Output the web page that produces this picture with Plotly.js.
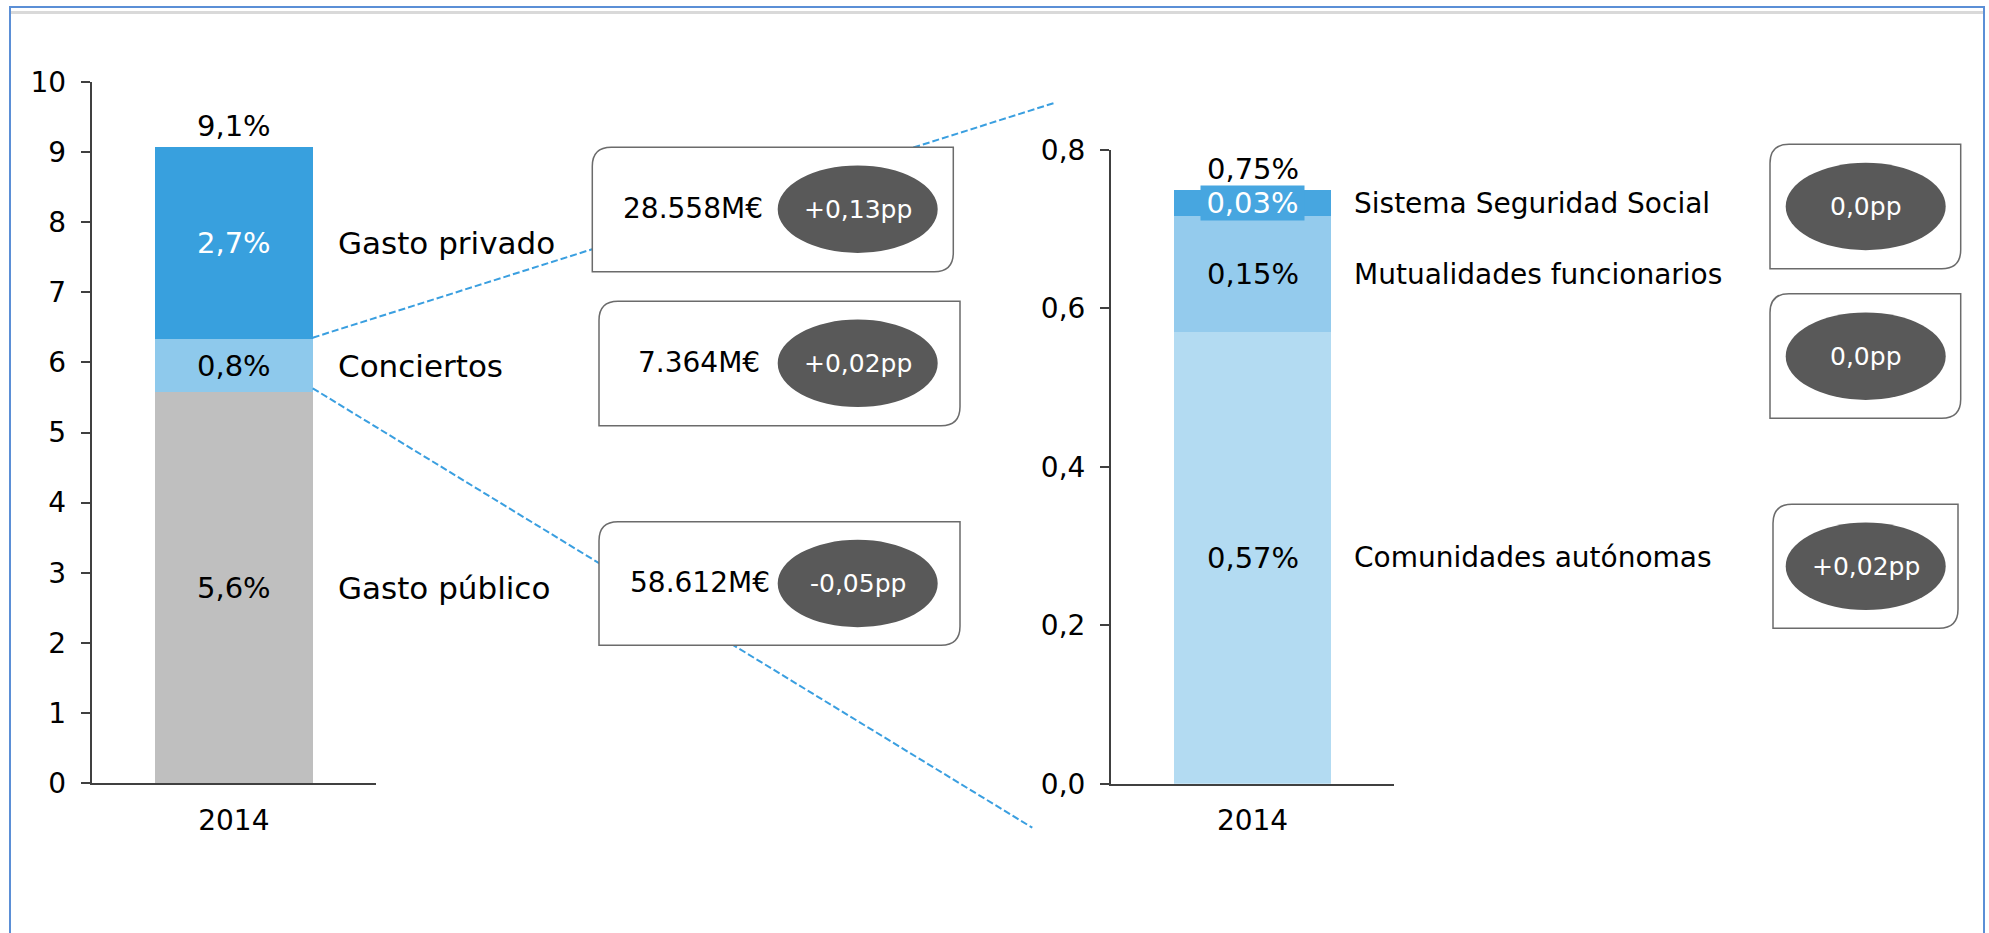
<!DOCTYPE html>
<html>
<head>
<meta charset="utf-8">
<script src="https://cdn.plot.ly/plotly-3.0.1.min.js"></script>
<style>
  html, body { margin: 0; padding: 0; background: #ffffff; }
  #chart { width: 1989px; height: 933px; }
</style>
</head>
<body>
<div id="chart"></div>
<script>
// ---------------- DATA ----------------
const categories = ['2014'];

const leftSeries = ['Gasto público', 'Conciertos', 'Gasto privado'];
const leftValues = [5.58, 0.75, 2.74];

const rightSeries = ['Comunidades autónomas', 'Mutualidades funcionarios', 'Sistema Seguridad Social'];
const rightValues = [0.57, 0.146, 0.033];

const leftTickVals = [0, 1, 2, 3, 4, 5, 6, 7, 8, 9, 10];
const leftTickText = ['0', '1', '2', '3', '4', '5', '6', '7', '8', '9', '10'];
const rightTickVals = [0, 0.2, 0.4, 0.6, 0.8];
const rightTickText = ['0,0', '0,2', '0,4', '0,6', '0,8'];

const leftAmounts = ['58.612M€', '7.364M€', '28.558M€'];
const leftChanges = ['-0,05pp', '+0,02pp', '+0,13pp'];
const rightChanges = ['+0,02pp', '0,0pp', '0,0pp'];

// ---------------- STYLE ----------------
const W = 1989, H = 933;
const FONT = 'DejaVu Sans, Verdana, sans-serif';
const leftColors = ['#bfbfbf', '#8ec9ec', '#38a0de'];
const leftTextColors = ['#000000', '#000000', '#ffffff'];
const rightColors = ['#b3dbf2', '#94cbed', '#47a6e0'];
const rightTextColors = ['#000000', '#000000', '#ffffff'];
const axisColor = '#404040';
const dashColor = '#3a9fe0';
const ellipseColor = '#595959';
const boxLine = '#6b6b6b';
const VALUE_SIZE = 29;

const px = x => x / W;
const py = y => 1 - y / H;

function fmt(v, d) { return v.toFixed(d).replace('.', ','); }

// ---------------- TRACES ----------------
const BARW = 0.5547;
const traces = [];
leftSeries.forEach((name, i) => {
  traces.push({
    type: 'bar', name: name, x: categories, y: [leftValues[i]],
    xaxis: 'x', yaxis: 'y', width: BARW,
    marker: { color: leftColors[i], line: { width: 0 } },
    hoverinfo: 'skip', showlegend: false
  });
});
rightSeries.forEach((name, i) => {
  traces.push({
    type: 'bar', name: name, x: categories, y: [rightValues[i]],
    xaxis: 'x2', yaxis: 'y2', width: BARW,
    marker: { color: rightColors[i], line: { width: 0 } },
    hoverinfo: 'skip', showlegend: false
  });
});

// ---------------- ANNOTATIONS ----------------
const annotations = [];
const catIndex = 0; // position of categories[0] on the category axis
function segLabels(values, textColors, decimals, xref, yref, nameX, nameSize, names, bgIndex, bgColor) {
  let cum = 0;
  values.forEach((v, i) => {
    const mid = cum + v / 2;
    cum += v;
    const a = {
      xref: xref, yref: yref, x: catIndex, y: mid,
      text: fmt(v, decimals) + '%', showarrow: false,
      font: { family: FONT, size: VALUE_SIZE, color: textColors[i] },
      xanchor: 'center', yanchor: 'middle'
    };
    if (i === bgIndex) {
      a.bgcolor = bgColor; a.width = 101; a.height = 32; a.borderpad = 1;
    }
    annotations.push(a);
    annotations.push({
      xref: 'paper', yref: yref, x: nameX, y: mid,
      text: names[i], showarrow: false,
      font: { family: FONT, size: nameSize, color: '#000000' },
      xanchor: 'left', yanchor: 'middle'
    });
  });
  return cum;
}
const leftTotal = segLabels(leftValues, leftTextColors, 1, 'x', 'y', px(336), 31, leftSeries, -1, null);
const rightTotal = segLabels(rightValues, rightTextColors, 2, 'x2', 'y2', px(1352), 28, rightSeries, 2, rightColors[2]);

annotations.push({
  xref: 'x', yref: 'y', x: catIndex, y: leftTotal, yshift: 21,
  text: fmt(leftTotal, 1) + '%', showarrow: false,
  font: { family: FONT, size: VALUE_SIZE, color: '#000000' }, xanchor: 'center', yanchor: 'middle'
});
annotations.push({
  xref: 'x2', yref: 'y2', x: catIndex, y: rightTotal, yshift: 21,
  text: fmt(rightTotal, 2) + '%', showarrow: false,
  font: { family: FONT, size: VALUE_SIZE, color: '#000000' }, xanchor: 'center', yanchor: 'middle'
});

// ---------------- SHAPES ----------------
const shapes = [];
// outer frame
shapes.push({ type: 'rect', xref: 'paper', yref: 'paper',
  x0: px(10), x1: px(1984), y0: py(7), y1: py(960),
  line: { color: '#5b8fd6', width: 2 }, fillcolor: 'rgba(0,0,0,0)', layer: 'below' });
shapes.push({ type: 'line', xref: 'paper', yref: 'paper',
  x0: px(11), x1: px(1983), y0: py(12.5), y1: py(12.5),
  line: { color: '#d9d9d9', width: 3 }, layer: 'below' });

// dashed connector lines
shapes.push({ type: 'line', xref: 'paper', yref: 'paper',
  x0: px(312.7), y0: py(337.7), x1: px(1055), y1: py(102.7),
  line: { color: dashColor, width: 2, dash: '7px,3px' } });
shapes.push({ type: 'line', xref: 'paper', yref: 'paper',
  x0: px(312.7), y0: py(388.3), x1: px(1032.3), y1: py(827.7),
  line: { color: dashColor, width: 2, dash: '7px,3px' } });

function roundedBox(x0, y0, x1, y1, r) {
  const P = (x, y) => px(x) + ',' + py(y);
  return 'M' + P(x0 + r, y0) + ' L' + P(x1, y0) + ' L' + P(x1, y1 - r) +
         ' Q' + P(x1, y1) + ' ' + P(x1 - r, y1) + ' L' + P(x0, y1) +
         ' L' + P(x0, y0 + r) + ' Q' + P(x0, y0) + ' ' + P(x0 + r, y0) + ' Z';
}
function addBox(x0, y0, x1, y1) {
  shapes.push({ type: 'path', xref: 'paper', yref: 'paper',
    path: roundedBox(x0, y0, x1, y1, 19),
    fillcolor: '#ffffff', line: { color: boxLine, width: 1.5 } });
}
function addEllipse(cx, cy, text) {
  shapes.push({ type: 'circle', xref: 'paper', yref: 'paper',
    x0: px(cx - 80), x1: px(cx + 80), y0: py(cy + 43.7), y1: py(cy - 43.7),
    fillcolor: ellipseColor, line: { width: 0 } });
  annotations.push({ xref: 'paper', yref: 'paper', x: px(cx), y: py(cy),
    text: text, showarrow: false, xanchor: 'center', yanchor: 'middle',
    font: { family: FONT, size: 25, color: '#ffffff' } });
}
function addAmount(cx, cy, text) {
  annotations.push({ xref: 'paper', yref: 'paper', x: px(cx), y: py(cy),
    text: text, showarrow: false, xanchor: 'center', yanchor: 'middle',
    font: { family: FONT, size: 28, color: '#000000' } });
}

// left boxes (ordered as series: público, conciertos, privado)
const leftBoxes = [
  { x0: 599, y0: 521.7, x1: 960, y1: 645.3, tx: 699.5, ty: 582.7, ey: 583.5 },
  { x0: 599, y0: 301.3, x1: 960, y1: 425.7, tx: 699.3, ty: 362.7, ey: 363.3 },
  { x0: 592.3, y0: 147.3, x1: 953.3, y1: 271.7, tx: 693.3, ty: 208.3, ey: 209.2 }
];
leftBoxes.forEach((b, i) => {
  addBox(b.x0, b.y0, b.x1, b.y1);
  addEllipse(857.7, b.ey, leftChanges[i]);
  addAmount(b.tx, b.ty, leftAmounts[i]);
});

// right boxes (CCAA, Mutualidades, Seguridad Social)
const rightBoxes = [
  { x0: 1773, y0: 504.3, x1: 1958, y1: 628.3, ey: 566.3 },
  { x0: 1770, y0: 293.7, x1: 1960.7, y1: 418.3, ey: 356.2 },
  { x0: 1770, y0: 144.3, x1: 1960.7, y1: 268.7, ey: 206.5 }
];
rightBoxes.forEach((b, i) => {
  addBox(b.x0, b.y0, b.x1, b.y1);
  addEllipse(1865.7, b.ey, rightChanges[i]);
});

// ---------------- LAYOUT ----------------
const tickFont = { family: FONT, size: 28, color: '#000000' };
const xAxisBase = {
  type: 'category', range: [-0.5, 0.5], showline: true, linecolor: axisColor, linewidth: 2,
  ticks: '', showgrid: false, zeroline: false, tickfont: tickFont, fixedrange: true,
  ticklabelstandoff: 11
};
const yAxisBase = {
  showline: true, linecolor: axisColor, linewidth: 2, ticks: 'outside', ticklen: 9,
  tickwidth: 2, tickcolor: axisColor, showgrid: false, zeroline: false,
  tickfont: tickFont, fixedrange: true, ticklabelstandoff: 9
};

const layout = {
  width: W, height: H,
  margin: { l: 0, r: 0, t: 0, b: 0, pad: 0 },
  paper_bgcolor: '#ffffff', plot_bgcolor: 'rgba(0,0,0,0)',
  barmode: 'stack', showlegend: false,
  font: { family: FONT, size: 28, color: '#000000' },
  xaxis: Object.assign({}, xAxisBase, { domain: [px(91.7), px(376)], anchor: 'y' }),
  yaxis: Object.assign({}, yAxisBase, { domain: [py(783.3), py(81.7)], range: [0, 10],
    tickvals: leftTickVals, ticktext: leftTickText, anchor: 'x' }),
  xaxis2: Object.assign({}, xAxisBase, { domain: [px(1111), px(1394)], anchor: 'y2' }),
  yaxis2: Object.assign({}, yAxisBase, { domain: [py(783.7), py(149.7)], range: [0, 0.8],
    tickvals: rightTickVals, ticktext: rightTickText, anchor: 'x2' }),
  shapes: shapes,
  annotations: annotations
};

Plotly.newPlot('chart', traces, layout, { staticPlot: true, displayModeBar: false });
</script>
</body>
</html>
